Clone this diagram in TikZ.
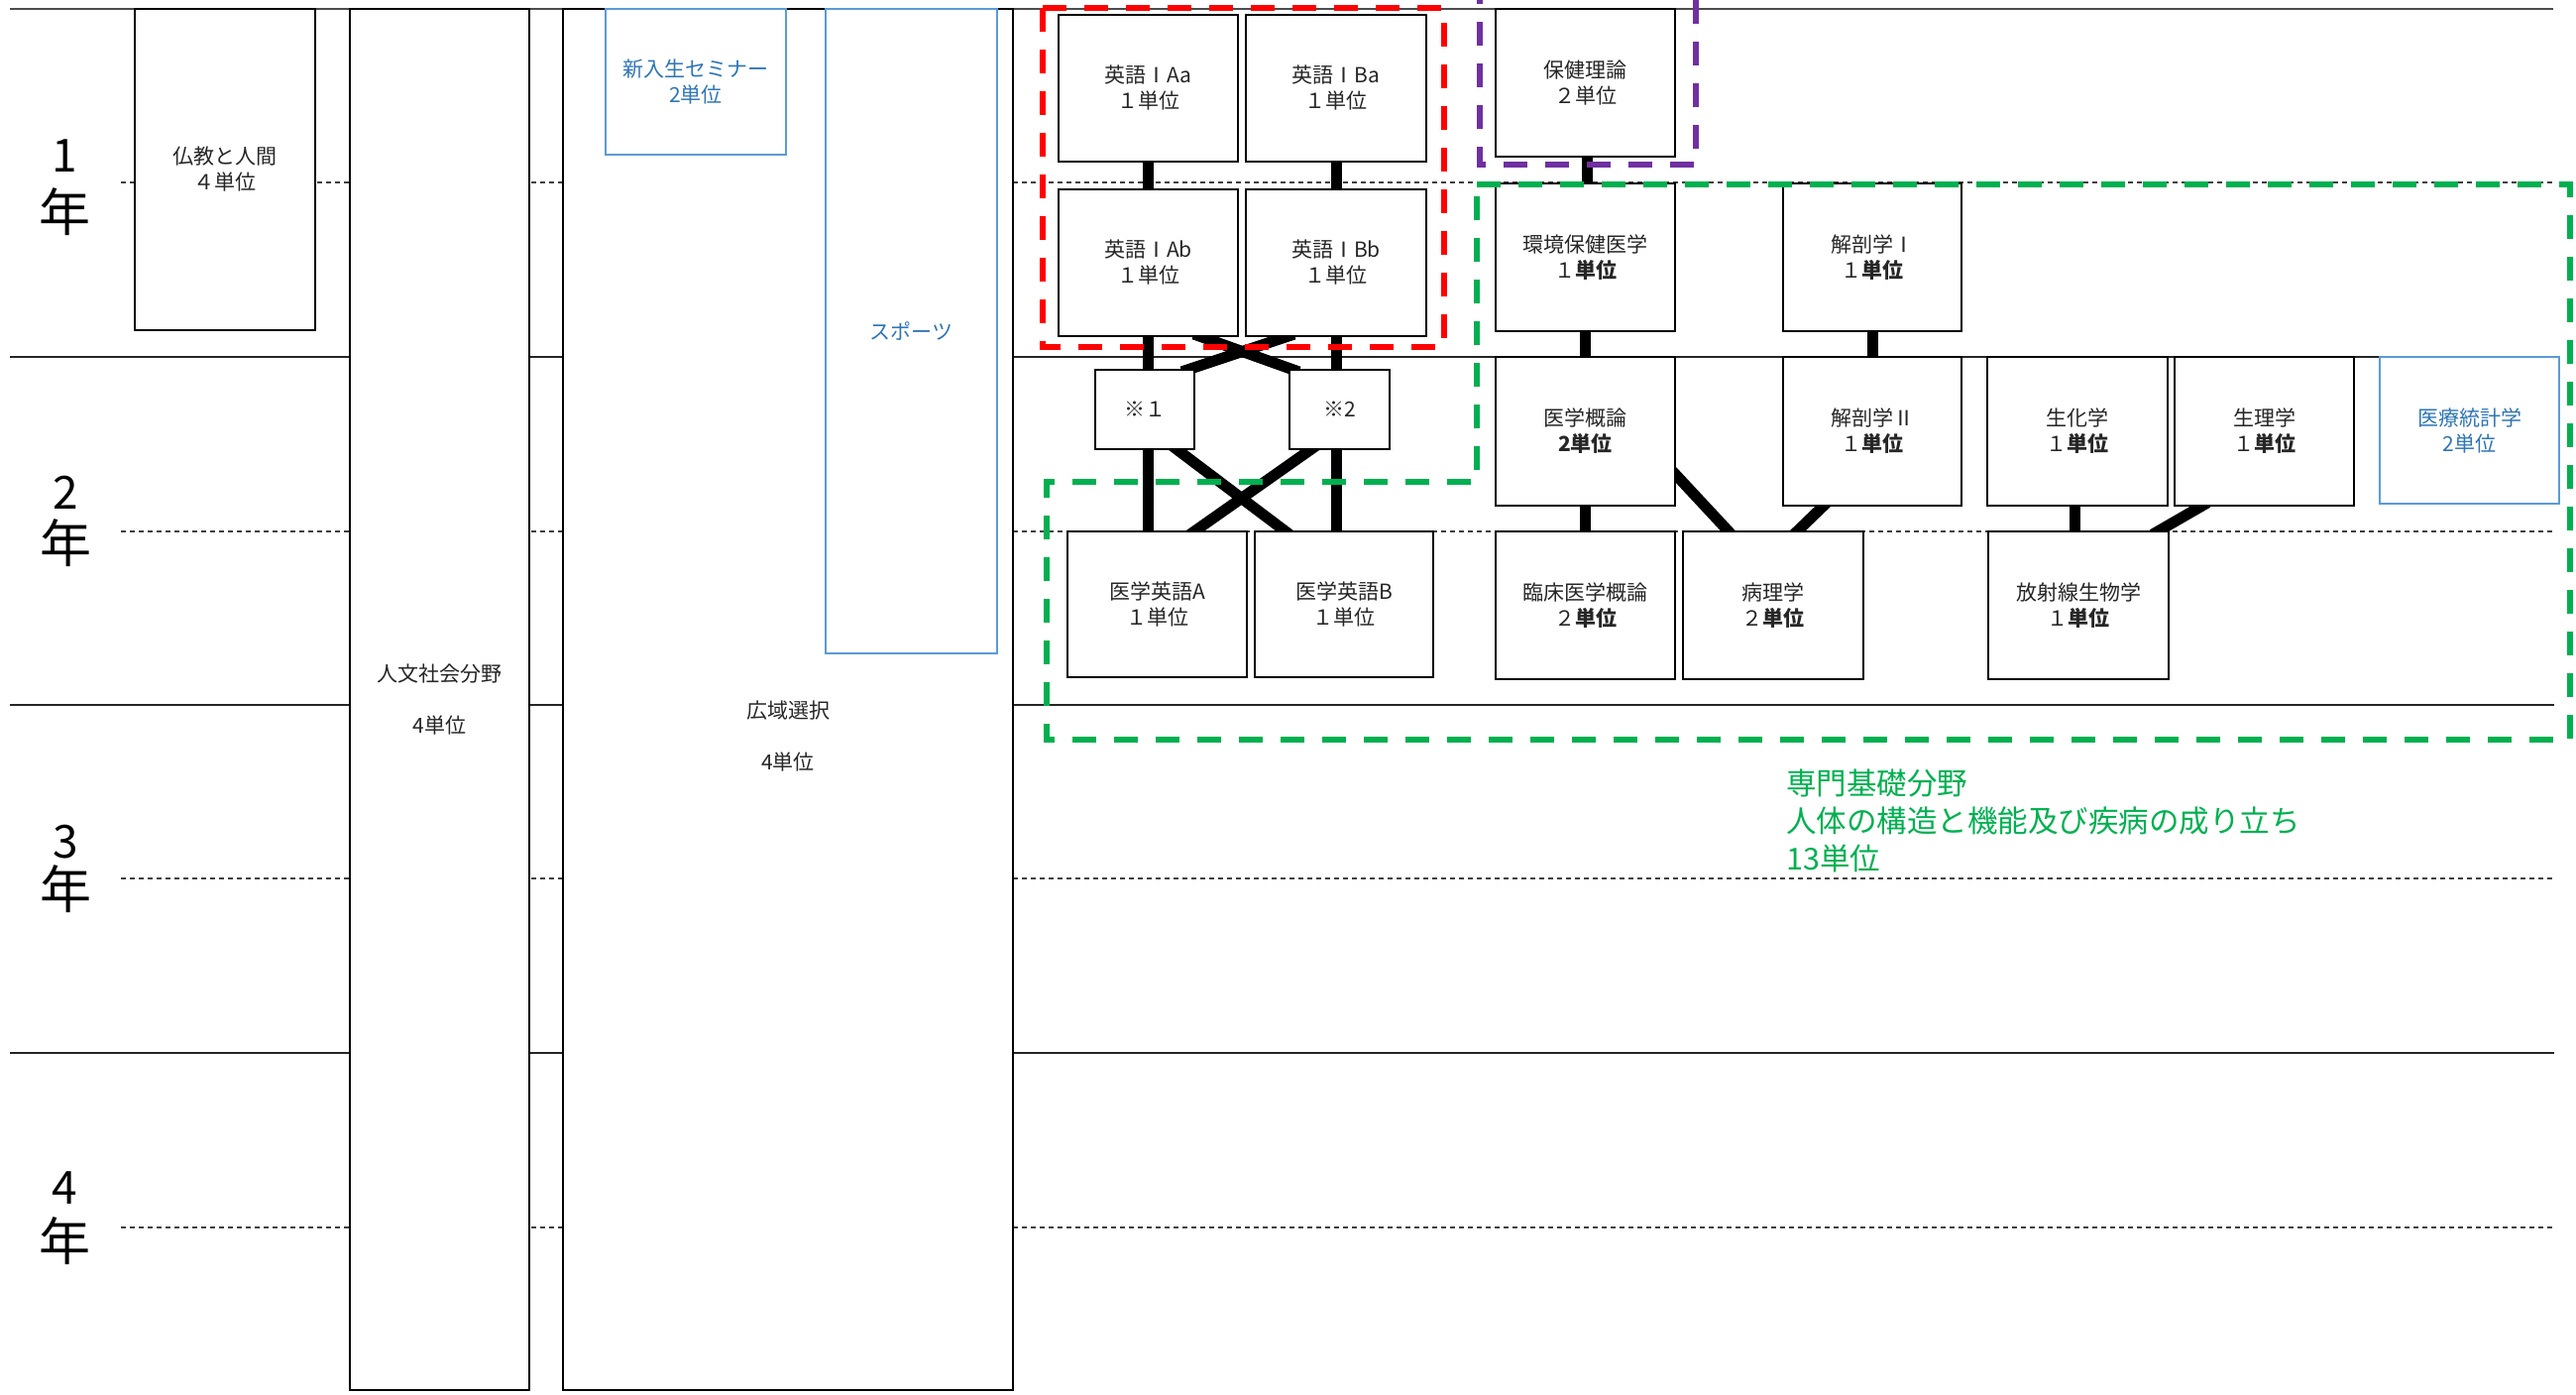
\documentclass[tikz,border=0pt]{standalone}
\usepackage{fontspec}
\setmainfont{Noto Sans CJK JP}
\usetikzlibrary{calc}
\definecolor{myblue}{HTML}{2E75B6}
\definecolor{boxblue}{HTML}{5B9BD5}
\definecolor{mygreen}{HTML}{00B050}
\definecolor{mypurple}{HTML}{7030A0}
\definecolor{myred}{HTML}{FF0000}
\pgfdeclarelayer{bg}
\pgfdeclarelayer{fg}
\pgfsetlayers{bg,main,fg}
\begin{document}
\begin{tikzpicture}[x=1pt,y=-1pt,
  box/.style={draw=black, line width=1.3pt, fill=white, inner sep=0pt, outer sep=0pt,
    align=center, anchor=north west, text=black!85, font=\fontsize{21}{26}\selectfont},
  bbox/.style={box, draw=boxblue, text=myblue},
  link/.style={line width=11pt, line cap=butt, shorten <=-6pt, shorten >=-6pt},
  yearsolid/.style={line width=2pt, draw=black!85},
  yeardash/.style={line width=1.5pt, draw=black!75, dash pattern=on 5pt off 4pt},
  region/.style={line width=6pt, dash pattern=on 24pt off 18pt},
  yeardigit/.style={font=\fontsize{46}{46}\selectfont, inner sep=0pt},
  yearnen/.style={font=\fontsize{52}{52}\selectfont, inner sep=0pt}
]
\useasboundingbox (0,0) rectangle (2599,1407);

% year labels
\node[yeardigit] (d1) at (65,157) {1};
\node[yearnen] (n1y) at (65,214) {年};
\node[yeardigit] (d2) at (66,497) {2};
\node[yearnen] (n2y) at (66,548) {年};
\node[yeardigit] (d3) at (66,849) {3};
\node[yearnen] (n3y) at (66,897) {年};
\node[yeardigit] (d4) at (65,1198) {4};
\node[yearnen] (n4y) at (65,1252) {年};

% boxes
\node[box, minimum width=182pt, minimum height=324pt] (bukkyo) at (136,9) {仏教と人間\\４単位};
\node[box, minimum width=181pt, minimum height=1393pt] (jinbun) at (353,9) {人文社会分野\\[26pt]4単位};
\node[box, minimum width=454pt, minimum height=1393pt] (kouiki) at (568,9) {};
\node[align=center, text=black!85, font=\fontsize{21}{26}\selectfont] (kouikit) at (795,743) {広域選択\\[26pt]4単位};
\node[bbox, minimum width=182pt, minimum height=147pt] (seminar) at (611,9) {新入生セミナー\\2単位};
\node[bbox, minimum width=173pt, minimum height=650pt] (sports) at (833,9) {スポーツ};

\node[box, minimum width=181pt, minimum height=148pt] (eAa) at (1068,15) {英語ⅠAa\\１単位};
\node[box, minimum width=182pt, minimum height=148pt] (eBa) at (1257,15) {英語ⅠBa\\１単位};
\node[box, minimum width=181pt, minimum height=148pt] (eAb) at (1068,191) {英語ⅠAb\\１単位};
\node[box, minimum width=182pt, minimum height=148pt] (eBb) at (1257,191) {英語ⅠBb\\１単位};
\node[box, minimum width=100pt, minimum height=80pt] (k1) at (1105,373) {※１};
\node[box, minimum width=101pt, minimum height=80pt] (k2) at (1301,373) {※2};
\node[box, minimum width=181pt, minimum height=147pt] (mA) at (1077,536) {医学英語A\\１単位};
\node[box, minimum width=180pt, minimum height=147pt] (mB) at (1266,536) {医学英語B\\１単位};

\node[box, minimum width=181pt, minimum height=149pt] (hoken) at (1509,9) {保健理論\\２単位};
\node[box, minimum width=181pt, minimum height=149pt] (kankyo) at (1509,185) {環境保健医学\\１\textbf{単位}};
\node[box, minimum width=180pt, minimum height=149pt] (kaibo1) at (1799,185) {解剖学Ⅰ\\１\textbf{単位}};
\node[box, minimum width=181pt, minimum height=150pt] (igaku) at (1509,360) {医学概論\\\textbf{2単位}};
\node[box, minimum width=180pt, minimum height=150pt] (kaibo2) at (1799,360) {解剖学Ⅱ\\１\textbf{単位}};
\node[box, minimum width=182pt, minimum height=150pt] (seika) at (2005,360) {生化学\\１\textbf{単位}};
\node[box, minimum width=181pt, minimum height=150pt] (seiri) at (2194,360) {生理学\\１\textbf{単位}};
\node[bbox, minimum width=181pt, minimum height=148pt] (toukei) at (2401,360) {医療統計学\\2単位};
\node[box, minimum width=181pt, minimum height=149pt] (rinsho) at (1509,536) {臨床医学概論\\２\textbf{単位}};
\node[box, minimum width=182pt, minimum height=149pt] (byouri) at (1698,536) {病理学\\２\textbf{単位}};
\node[box, minimum width=182pt, minimum height=149pt] (housha) at (2006,536) {放射線生物学\\１\textbf{単位}};

\node[anchor=west, align=left, text=mygreen, inner sep=0pt, font=\fontsize{30.5}{38}\selectfont] (greenlbl) at (1802,828)
  {専門基礎分野\\人体の構造と機能及び疾病の成り立ち\\13単位};

\begin{pgfonlayer}{bg}
  % grid
  \draw[line width=2.5pt, draw=black!70] (10,9) -- (2576,9);
  \foreach \yy in {360,711,1062} \draw[yearsolid] (10,\yy) -- (2577,\yy);
  \foreach \yy in {184,536,886,1238} \draw[yeardash] (122,\yy) -- (2577,\yy);
  % connectors
  \draw[link] (eAa.south) -- (eAb.north);
  \draw[link] (eBa.south) -- (eBb.north);
  \draw[link] (eAb.south) -- (eAb.south |- k1.north);
  \draw[link] ([xshift=3pt]k1.south) -- ([xshift=3pt]k1.south |- mA.north);
  \draw[link] (eBb.south) -- (eBb.south |- k2.north);
  \draw[link] ([xshift=-3.5pt]k2.south) -- ([xshift=-3.5pt]k2.south |- mB.north);
  \draw[link] ([xshift=51.5pt]eAb.south) -- ([xshift=4pt]k2.north west);
  \draw[link] ([xshift=-48pt]eBb.south) -- ([xshift=-7pt]k1.north east);
  \draw[link] ([xshift=32pt]k1.south) -- ([xshift=-59pt]mB.north);
  \draw[link] ([xshift=-28.5pt]k2.south) -- ([xshift=37.5pt]mA.north);
  \draw[link] ([xshift=2pt]hoken.south) -- ([xshift=2pt]kankyo.north);
  \draw[link] (kankyo.south) -- (igaku.north);
  \draw[link] (kaibo1.south) -- (kaibo2.north);
  \draw[link] (igaku.south) -- (rinsho.north);
  \draw[link] ([yshift=-43pt]igaku.east) -- ([xshift=-45pt]byouri.north);
  \draw[link] ([xshift=-49pt]kaibo2.south) -- ([xshift=24pt]byouri.north);
  \draw[link] ([xshift=-3pt]seika.south) -- ([xshift=-4pt]housha.north);
  \draw[link] ([xshift=-62.5pt]seiri.south) -- ([xshift=80pt]housha.north);
\end{pgfonlayer}

\begin{pgfonlayer}{fg}
  \draw[region, myred] (1052,8) rectangle (1457,350);
  \draw[region, mypurple] (1493,-20) rectangle (1711,166);
  \draw[region, mygreen] (1490,186) -- (2593,186) -- (2593,746) -- (1056,746) -- (1056,486) -- (1490,486) -- cycle;
\end{pgfonlayer}
\end{tikzpicture}
\end{document}
